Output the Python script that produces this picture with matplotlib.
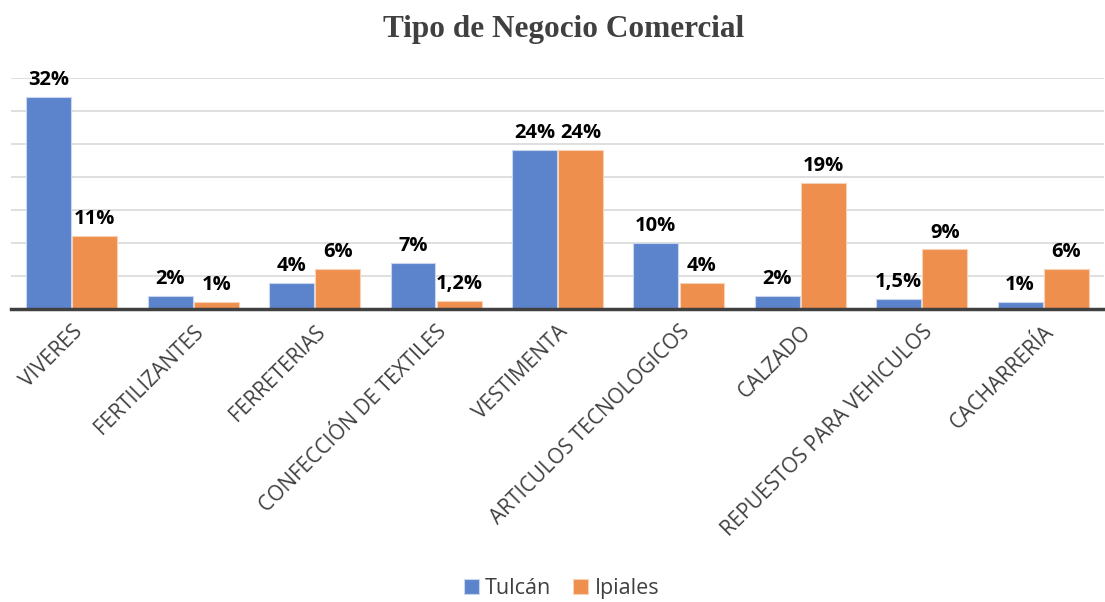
import numpy as np
import matplotlib.pyplot as plt

categories = ["VIVERES", "FERTILIZANTES", "FERRETERIAS", "CONFECCIÓN DE TEXTILES",
              "VESTIMENTA", "ARTICULOS TECNOLOGICOS", "CALZADO",
              "REPUESTOS PARA VEHICULOS", "CACHARRERÍA"]
tulcan = [32, 2, 4, 7, 24, 10, 2, 1.5, 1]
ipiales = [11, 1, 6, 1.2, 24, 4, 19, 9, 6]
tulcan_labels = ["32%", "2%", "4%", "7%", "24%", "10%", "2%", "1,5%", "1%"]
ipiales_labels = ["11%", "1%", "6%", "1,2%", "24%", "4%", "19%", "9%", "6%"]

blue = "#5b84cc"
orange = "#ee8f4e"

fig = plt.figure(figsize=(11.05, 6.02), dpi=100)
ax = fig.add_axes([0.01, 0.4867, 0.989, 0.3845])

x = np.arange(len(categories))
w = 0.37
b1 = ax.bar(x - w / 2 - 0.005, tulcan, w, color=blue, edgecolor="#c9d6ee", linewidth=0.8, zorder=3)
b2 = ax.bar(x + w / 2 + 0.005, ipiales, w, color=orange, edgecolor="#f8d2b6", linewidth=0.8, zorder=3)

for bars, labs in ((b1, tulcan_labels), (b2, ipiales_labels)):
    for r, lab in zip(bars, labs):
        ax.annotate(lab, (r.get_x() + r.get_width() / 2, r.get_height()),
                    xytext=(0, 5), textcoords="offset points", ha="center", va="bottom",
                    fontsize=14.5, fontweight="bold", family="Open Sans", color="black")

ax.set_xlim(-0.5, len(categories) - 0.5)
ax.set_ylim(0, 35)
ax.set_yticks(np.arange(5, 36, 5))
ax.yaxis.grid(True, color="#d9d9d9", linewidth=1.2, zorder=0)
ax.tick_params(axis="y", left=False, labelleft=False)
ax.tick_params(axis="x", length=0, pad=9)
for s in ["top", "right", "left"]:
    ax.spines[s].set_visible(False)
ax.spines["bottom"].set_color("#404040")
ax.spines["bottom"].set_linewidth(2.5)
ax.spines["bottom"].set_zorder(4)

ax.set_xticks(x)
ax.set_xticklabels(categories, rotation=45, ha="right", rotation_mode="anchor",
                   fontsize=15, family="Open Sans", color="#404040")

fig.text(0.51, 0.951, "Tipo de Negocio Comercial", ha="center", va="center",
         fontsize=22.5, fontweight="bold", family="Liberation Serif", color="#404040")

fig.legend([b1, b2], ["Tulcán", "Ipiales"], loc="center", bbox_to_anchor=(0.508, 0.022),
           ncol=2, frameon=False, handlelength=0.7, handleheight=0.7, handletextpad=0.3,
           columnspacing=1.0, prop={"family": "Open Sans", "size": 15.5}, labelcolor="#404040")

fig.savefig("out.png", dpi=100)
